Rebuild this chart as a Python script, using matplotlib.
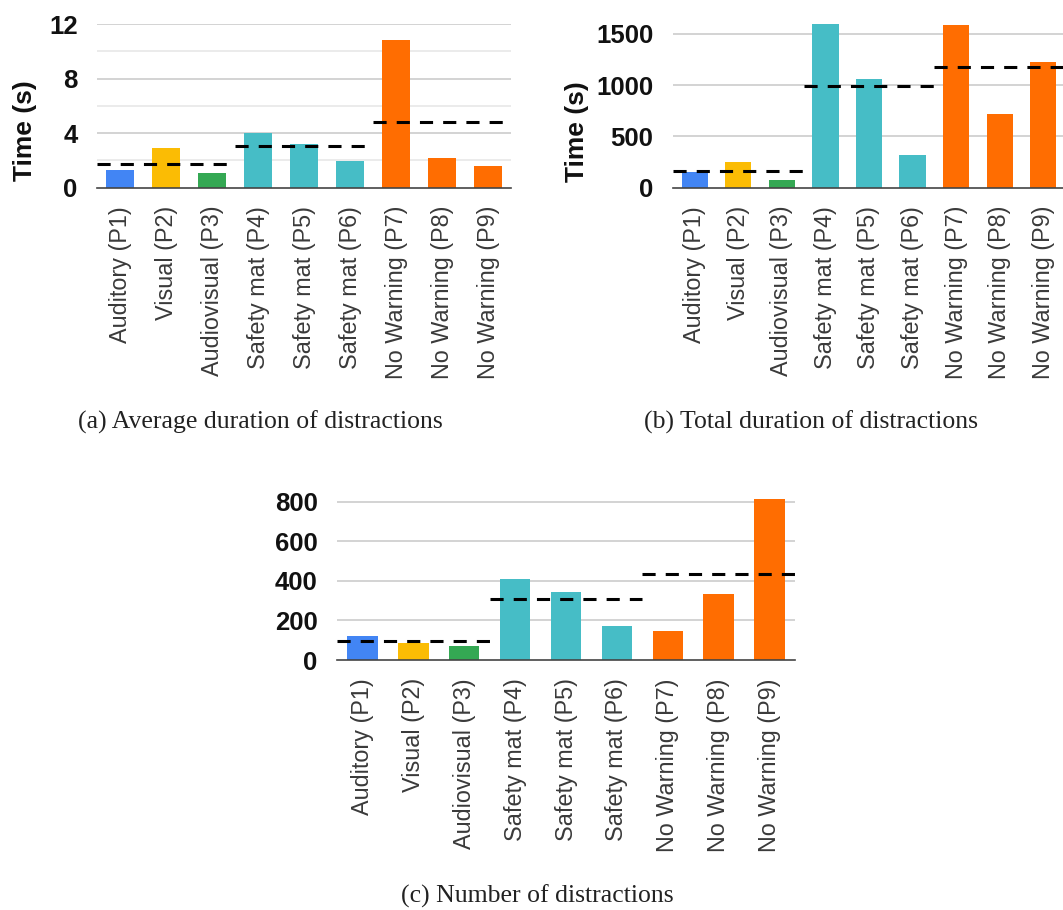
import matplotlib
matplotlib.use("Agg")
import matplotlib.pyplot as plt
import numpy as np

categories = ["Auditory (P1)", "Visual (P2)", "Audiovisual (P3)",
              "Safety mat (P4)", "Safety mat (P5)", "Safety mat (P6)",
              "No Warning (P7)", "No Warning (P8)", "No Warning (P9)"]
avg_duration = [1.3, 2.9, 1.05, 4.0, 3.2, 1.93, 10.8, 2.17, 1.59]
total_duration = [156, 253, 71, 1597, 1058, 321, 1584, 714, 1224]
num_distractions = [123, 88, 72, 411, 342, 173, 148, 335, 812]
avg_means = [1.76, 3.06, 4.85]
total_means = [163, 992, 1174]
num_means = [95, 310, 432]
colors = ["#4285F4", "#FBBC04", "#34A853", "#46BDC6", "#46BDC6", "#46BDC6",
          "#FF6D01", "#FF6D01", "#FF6D01"]
captions = ["(a) Average duration of distractions",
            "(b) Total duration of distractions",
            "(c) Number of distractions"]

W, H = 1063, 910
fig = plt.figure(figsize=(W / 100, H / 100), dpi=100)

SANS = ["Liberation Sans", "DejaVu Sans"]
SERIF = ["Liberation Serif", "DejaVu Serif"]


def px_axes(left, right, bottom, top):
    return fig.add_axes([left / W, 1 - bottom / H, (right - left) / W, (bottom - top) / H])


def draw(ax, values, means, ylim, yticks, minor=None):
    x = np.arange(len(categories))
    ax.bar(x, values, width=0.6, color=colors, zorder=3)
    for g, m in enumerate(means):
        ax.hlines(m, 3 * g - 0.5, 3 * g + 2.5, colors="black", linewidth=2.2,
                  linestyles=(0, (4.3, 3.3)), zorder=4)
    ax.set_xlim(-0.5, 8.5)
    ax.set_ylim(*ylim)
    ax.set_yticks(yticks)
    ax.set_yticklabels([str(t) for t in yticks], fontfamily=SANS, fontsize=18.5,
                       fontweight="bold", color="#111111")
    ax.set_xticks(x)
    ax.set_xticklabels(categories, rotation=90, fontfamily=SANS, fontsize=16.8,
                       color="#3a3a3a")
    ax.tick_params(axis="both", length=0)
    ax.tick_params(axis="y", pad=14)
    ax.tick_params(axis="x", pad=13)
    for s in ["left", "right", "top"]:
        ax.spines[s].set_visible(False)
    ax.spines["bottom"].set_color("#444444")
    ax.spines["bottom"].set_linewidth(1.2)
    ax.spines["bottom"].set_zorder(5)
    for t in yticks[1:]:
        ax.axhline(t, color="#cccccc", linewidth=1.2, zorder=1)
    if minor:
        for t in minor:
            ax.axhline(t, color="#e8e8e8", linewidth=1.2, zorder=1)


# (a)
ax1 = px_axes(97, 511, 187.7, 24)
draw(ax1, avg_duration, avg_means, (0, 12), [0, 4, 8, 12], minor=[2, 6, 10])
fig.text(25 / W, 1 - 131 / H, "Time (s)", rotation=90, ha="center", va="center",
         fontfamily=SANS, fontsize=19, fontweight="bold", color="#111111")
fig.text(260 / W, 1 - 422 / H, captions[0], ha="center", va="center",
         fontfamily=SERIF, fontsize=18.5, color="#222222")

# (b)
ax2 = px_axes(673, 1065, 187.7, 18.3)
draw(ax2, total_duration, total_means, (0, 1650), [0, 500, 1000, 1500])
fig.text(577 / W, 1 - 132 / H, "Time (s)", rotation=90, ha="center", va="center",
         fontfamily=SANS, fontsize=19, fontweight="bold", color="#111111")
fig.text(811 / W, 1 - 422 / H, captions[1], ha="center", va="center",
         fontfamily=SERIF, fontsize=18.5, color="#222222")

# (c)
ax3 = px_axes(337, 795, 660, 495.7)
draw(ax3, num_distractions, num_means, (0, 830), [0, 200, 400, 600, 800])
fig.text(537 / W, 1 - 896 / H, captions[2], ha="center", va="center",
         fontfamily=SERIF, fontsize=18.5, color="#222222")

fig.savefig("out.png", dpi=100)
